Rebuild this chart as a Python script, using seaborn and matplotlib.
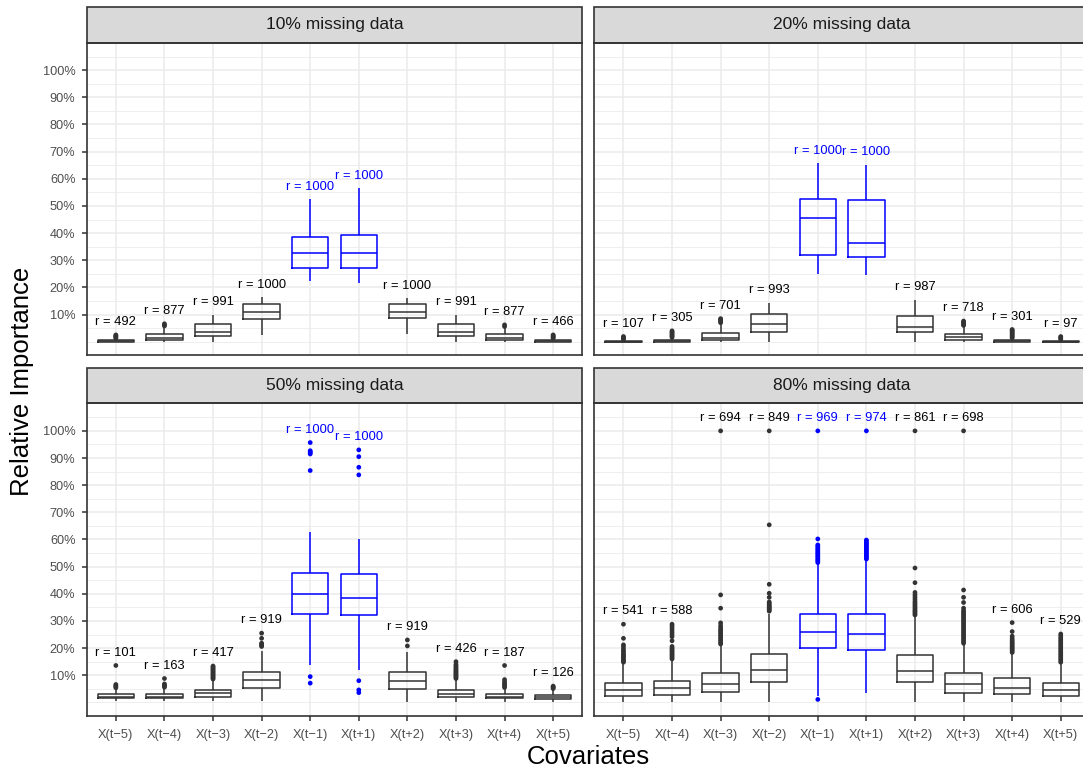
import matplotlib
matplotlib.use("Agg")
import matplotlib.pyplot as plt
from matplotlib.patches import Rectangle
import pandas as pd
import seaborn as sns

# ---------------------------------------------------------------------------
# Data (relative importance in percent)
# ---------------------------------------------------------------------------
COVARIATES = ["X(t−5)", "X(t−4)", "X(t−3)", "X(t−2)", "X(t−1)",
              "X(t+1)", "X(t+2)", "X(t+3)", "X(t+4)", "X(t+5)"]
HIGHLIGHT = ["X(t−1)", "X(t+1)"]
PANELS = ["10% missing data", "20% missing data",
          "50% missing data", "80% missing data"]

# 10% missing data
R_10 = [492, 877, 991, 1000, 1000, 1000, 1000, 991, 877, 466]
LOW_10 = [0.0, 0.0, 0.0, 2.5, 22.2, 21.8, 2.7, 0.0, 0.0, 0.0]
Q1_10 = [0.05, 0.66, 2.1, 8.4, 27.1, 27.1, 8.6, 2.1, 0.66, 0.05]
MED_10 = [0.2, 1.4, 3.5, 10.9, 32.8, 32.8, 11.1, 3.5, 1.4, 0.2]
Q3_10 = [0.5, 2.75, 6.4, 13.8, 38.5, 39.2, 13.9, 6.5, 2.75, 0.5]
HIGH_10 = [1.1, 5.3, 9.9, 16.3, 52.4, 56.5, 16.0, 9.9, 5.0, 1.1]
OUT_10 = [[1.3, 1.6, 1.9, 2.2, 2.5], [5.8, 6.2, 6.6], [], [], [], [],
          [], [], [5.6, 6.2], [1.3, 1.6, 1.9, 2.2, 2.5]]

# 20% missing data
R_20 = [107, 305, 701, 993, 1000, 1000, 987, 718, 301, 97]
LOW_20 = [0.0, 0.0, 0.0, 0.0, 24.9, 24.4, 0.0, 0.0, 0.0, 0.0]
Q1_20 = [0.0, 0.05, 0.66, 3.5, 32.0, 31.2, 3.6, 0.66, 0.05, 0.0]
MED_20 = [0.05, 0.2, 1.5, 6.4, 45.6, 36.3, 5.6, 1.6, 0.2, 0.05]
Q3_20 = [0.3, 0.5, 3.1, 10.1, 52.7, 52.1, 9.4, 2.75, 0.5, 0.3]
HIGH_20 = [0.6, 1.2, 6.5, 14.4, 65.7, 65.1, 15.4, 5.5, 1.1, 0.6]
OUT_20 = [[0.8, 1.2, 1.6, 1.9], [1.6, 2.0, 2.4, 2.8, 3.2, 3.6, 4.0],
          [7.0, 7.4, 7.8, 8.2, 8.5], [], [], [], [],
          [6.0, 6.4, 6.8, 7.2, 7.6],
          [1.4, 1.8, 2.2, 2.6, 3.0, 3.4, 3.8, 4.2, 4.5], [0.8, 1.2, 1.6, 1.9]]

# 50% missing data
R_50 = [101, 163, 417, 919, 1000, 1000, 919, 426, 187, 126]
LOW_50 = [0.4, 0.4, 0.4, 0.7, 13.6, 12.0, 0.3, 0.3, 0.3, 0.3]
Q1_50 = [1.5, 1.5, 2.1, 5.2, 32.6, 32.2, 4.9, 1.9, 1.5, 1.3]
MED_50 = [2.1, 2.1, 3.4, 8.3, 40.1, 38.6, 8.0, 3.0, 2.1, 1.9]
Q3_50 = [3.0, 3.0, 4.6, 11.1, 47.6, 47.2, 11.1, 4.6, 3.0, 2.8]
HIGH_50 = [5.0, 5.0, 8.2, 19.0, 62.7, 60.2, 18.7, 8.4, 5.0, 4.4]
OUT_50 = [[5.4, 5.8, 6.2, 6.6, 13.6],
          [5.6, 6.0, 6.4, 6.8, 8.8],
          [8.6, 9.0, 9.4, 9.8, 10.2, 10.6, 11.0, 11.4, 11.8, 12.2, 12.6,
           13.0, 13.4],
          [20.6, 21.0, 21.4, 21.8, 23.6, 25.5],
          [95.7, 92.7, 92.3, 91.9, 91.5, 85.4, 9.5, 7.1],
          [93.0, 90.5, 86.6, 83.8, 8.0, 4.6, 3.6],
          [20.8, 23.0],
          [8.8, 9.2, 9.6, 10.0, 10.4, 10.8, 11.2, 11.6, 12.0, 12.5, 13.0,
           13.5, 14.0, 15.0],
          [5.5, 6.0, 6.5, 7.0, 7.6, 8.4, 13.6],
          [5.1, 5.4, 5.7, 6.0]]

# 80% missing data
R_80 = [541, 588, 694, 849, 969, 974, 861, 698, 606, 529]
LOW_80 = [0.3, 0.3, 0.3, 0.3, 2.2, 3.6, 0.3, 0.3, 0.3, 0.3]
Q1_80 = [2.4, 2.8, 3.7, 7.4, 20.0, 19.2, 7.7, 3.5, 3.0, 2.4]
MED_80 = [4.4, 5.2, 6.9, 12.0, 26.1, 25.2, 11.4, 6.8, 5.3, 4.4]
Q3_80 = [7.3, 8.0, 10.7, 17.8, 32.5, 32.5, 17.4, 10.7, 9.1, 7.3]
HIGH_80 = [14.4, 15.5, 20.8, 32.6, 51.0, 52.5, 31.6, 21.4, 17.8, 14.2]
OUT_80 = [[14.8, 15.3, 15.8, 16.3, 16.8, 17.3, 17.8, 18.4, 19.0, 19.6,
           20.5, 21.2, 23.6, 28.8],
          [16.0, 16.5, 17.0, 17.5, 18.0, 18.5, 19.0, 19.5, 20.0, 20.6,
           22.7, 24.2, 25.0, 25.8, 26.6, 27.4, 28.2, 28.8],
          [21.5, 22.0, 22.6, 23.2, 23.8, 24.4, 25.0, 25.6, 26.2, 26.8,
           27.5, 28.3, 29.3, 34.7, 39.6, 100.0],
          [33.6, 34.0, 34.4, 34.8, 35.2, 35.6, 36.0, 36.5, 37.0, 38.7,
           40.2, 43.5, 65.4, 100.0],
          [51.5, 52.0, 52.5, 53.0, 53.5, 54.0, 54.5, 55.0, 55.5, 56.0,
           56.5, 57.0, 57.5, 58.0, 60.2, 100.0, 1.1],
          [52.8, 53.3, 53.8, 54.3, 54.8, 55.3, 55.8, 56.3, 56.8, 57.3,
           57.8, 58.3, 58.8, 59.3, 59.8, 100.0],
          [32.2, 32.7, 33.2, 33.7, 34.2, 34.8, 35.4, 36.0, 36.6, 37.2,
           38.0, 38.8, 39.6, 40.5, 44.1, 49.5, 100.0],
          [21.8, 22.4, 23.0, 23.6, 24.2, 24.8, 25.4, 26.0, 26.6, 27.2,
           27.8, 28.4, 29.0, 29.6, 30.2, 30.8, 31.4, 32.0, 32.6, 33.2,
           33.8, 34.7, 36.8, 38.7, 41.4, 100.0],
          [18.4, 18.9, 19.4, 19.9, 20.4, 20.9, 21.4, 21.9, 22.4, 23.0,
           23.6, 24.4, 26.1, 29.4],
          [14.8, 15.4, 16.0, 16.6, 17.2, 17.8, 18.4, 19.0, 19.6, 20.2,
           20.8, 21.4, 22.0, 22.6, 23.2, 23.8, 24.5, 25.2]]

SUMMARIES = {
    PANELS[0]: (R_10, LOW_10, Q1_10, MED_10, Q3_10, HIGH_10, OUT_10),
    PANELS[1]: (R_20, LOW_20, Q1_20, MED_20, Q3_20, HIGH_20, OUT_20),
    PANELS[2]: (R_50, LOW_50, Q1_50, MED_50, Q3_50, HIGH_50, OUT_50),
    PANELS[3]: (R_80, LOW_80, Q1_80, MED_80, Q3_80, HIGH_80, OUT_80),
}

# ---------------------------------------------------------------------------
# Styling
# ---------------------------------------------------------------------------
BLUE = "#0000FF"
DARK = "#333333"
PALETTE = {c: (BLUE if c in HIGHLIGHT else DARK) for c in COVARIATES}
LABEL_OFFSET = 4.7
Y_LIMITS = (-4.93, 110.12)

plt.rcParams["font.family"] = ["Liberation Sans", "DejaVu Sans"]

W, H = 1083, 769
fig = plt.figure(figsize=(W / 100, H / 100), dpi=100)

PANEL_W = 495.6
PANEL_H = 312.4
STRIP_H = 35.4
COL_X = [86.7, 594.3]
ROW_TOP = [42.7, 403.4]


def panel_axes(row, col):
    x0 = COL_X[col] / W
    y0 = (H - ROW_TOP[row] - PANEL_H) / H
    return fig.add_axes([x0, y0, PANEL_W / W, PANEL_H / H])


for k, panel in enumerate(PANELS):
    row, col = divmod(k, 2)
    ax = panel_axes(row, col)
    r_vals, low, q1, med, q3, high, outs = SUMMARIES[panel]

    # Five-number summary per covariate -> box drawn min..max of these values
    box_rows = []
    for i, cov in enumerate(COVARIATES):
        for v in (low[i], q1[i], med[i], q3[i], high[i]):
            box_rows.append({"covariate": cov, "value": v})
    box_df = pd.DataFrame(box_rows)

    out_rows = [{"covariate": cov, "value": v}
                for cov, vals in zip(COVARIATES, outs) for v in vals]
    out_df = pd.DataFrame(out_rows, columns=["covariate", "value"])

    sns.boxplot(data=box_df, x="covariate", y="value", hue="covariate",
                order=COVARIATES, hue_order=COVARIATES, palette=PALETTE,
                fill=False, whis=(0, 100), showfliers=False, showcaps=False,
                width=0.75, linewidth=1.1, legend=False, ax=ax, zorder=3)
    sns.stripplot(data=out_df, x="covariate", y="value", hue="covariate",
                  order=COVARIATES, hue_order=COVARIATES, palette=PALETTE,
                  jitter=False, size=3.4, linewidth=0, legend=False, ax=ax,
                  zorder=4)

    # "r = n" labels above the highest point of each covariate
    for i, cov in enumerate(COVARIATES):
        top = max([high[i]] + list(outs[i]))
        ax.text(i, top + LABEL_OFFSET, f"r = {r_vals[i]}", ha="center",
                va="center", fontsize=9.3,
                color=BLUE if cov in HIGHLIGHT else "black", zorder=5)

    ax.set_xlim(-0.6, 9.6)
    ax.set_ylim(*Y_LIMITS)
    ax.set_xlabel("")
    ax.set_ylabel("")
    ax.set_facecolor("white")

    major = list(range(10, 101, 10))
    minor = [0, 5] + list(range(15, 100, 10)) + [105]
    ax.set_yticks(major)
    ax.set_yticklabels([f"{v}%" for v in major])
    ax.set_yticks(minor, minor=True)
    ax.set_axisbelow(True)
    ax.yaxis.grid(True, which="major", color="#EBEBEB", linewidth=1.1)
    ax.yaxis.grid(True, which="minor", color="#EBEBEB", linewidth=0.6)
    ax.xaxis.grid(True, which="major", color="#EBEBEB", linewidth=1.1)

    for s in ax.spines.values():
        s.set_color(DARK)
        s.set_linewidth(1.2)
        s.set_zorder(6)

    ax.tick_params(which="minor", length=0)
    ax.tick_params(axis="both", which="major", colors=DARK, width=1.1,
                   length=3.6, labelcolor="#4D4D4D", labelsize=9.2)
    ax.tick_params(axis="y", pad=4.5)
    ax.tick_params(axis="x", pad=6.0)
    if row == 0:
        ax.tick_params(axis="x", length=0, labelbottom=False)
    if col == 1:
        ax.tick_params(axis="y", which="both", length=0, labelleft=False)

    # facet strip
    strip = Rectangle((0, 1), 1, STRIP_H / PANEL_H, transform=ax.transAxes,
                      facecolor="#D9D9D9", edgecolor=DARK, linewidth=1.2,
                      clip_on=False, zorder=6)
    ax.add_patch(strip)
    ax.text(0.5, 1 + STRIP_H / PANEL_H / 2, panel, transform=ax.transAxes,
            ha="center", va="center", fontsize=12.5, color="#1A1A1A",
            zorder=7)

fig.text(21.7 / W, 1 - 381 / H, "Relative Importance", rotation=90,
         ha="center", va="center", fontsize=18.5, color="black")
fig.text((COL_X[0] + COL_X[1] + PANEL_W) / 2 / W, (H - 764) / H,
         "Covariates", ha="center", va="baseline", fontsize=18.5,
         color="black")

fig.savefig("out.png", dpi=100)
